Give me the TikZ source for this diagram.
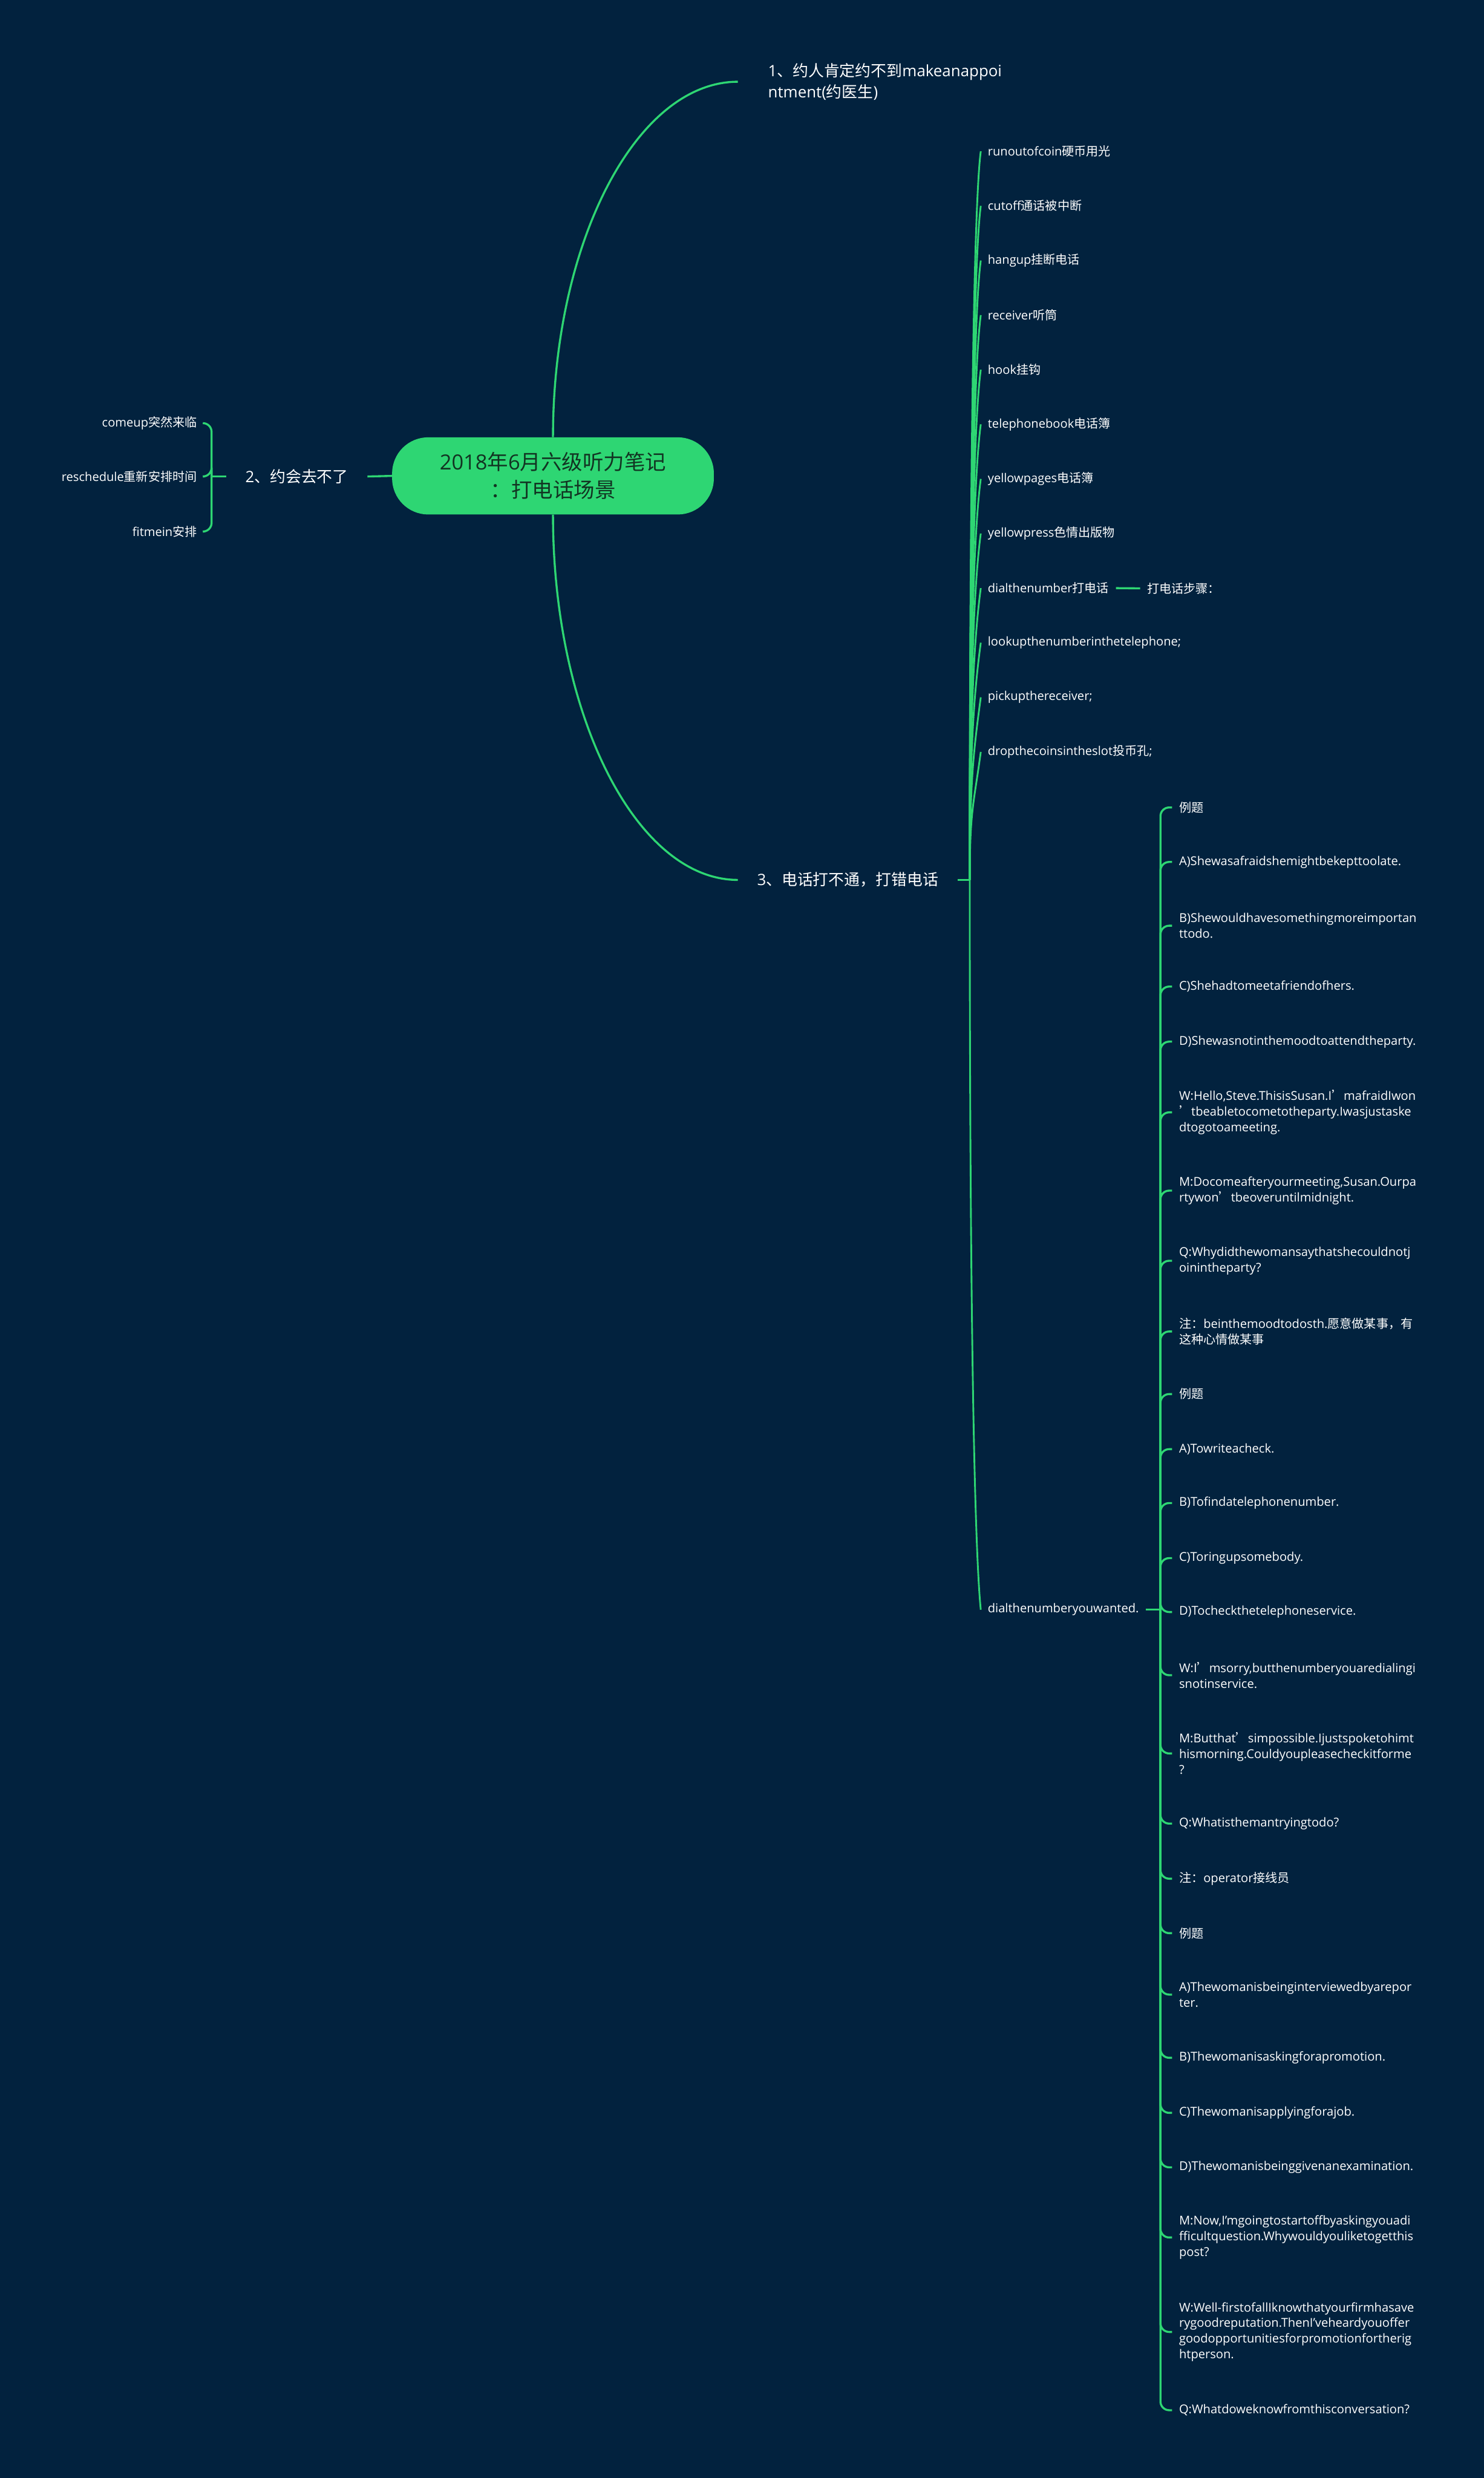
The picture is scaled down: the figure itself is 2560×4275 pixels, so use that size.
\documentclass[tikz,border=0pt]{standalone}
\usepackage{fontspec}
\setmainfont{Open Sans}
\newfontfamily\cjkfont{Noto Sans CJK SC}
\usepackage{tikz}
\usetikzlibrary{calc}

% Chinese runs switch to the CJK family by themselves
\XeTeXinterchartokenstate=1
\newXeTeXintercharclass\cjkclass
\newcount\cjkcode
\cjkcode="4E00
\loop
  \XeTeXcharclass\cjkcode=\cjkclass
  \ifnum\cjkcode<"9FFF
  \advance\cjkcode by 1
\repeat
\XeTeXcharclass"3001=\cjkclass
\XeTeXcharclass"FF0C=\cjkclass
\XeTeXcharclass"FF1A=\cjkclass
\XeTeXcharclass"2019=\cjkclass
\XeTeXinterchartoks 0 \cjkclass={\cjkfont}
\XeTeXinterchartoks 4095 \cjkclass={\cjkfont}
\XeTeXinterchartoks \cjkclass 0={\rmfamily}
\XeTeXinterchartoks \cjkclass 4095={\rmfamily}

\definecolor{bgnavy}{RGB}{2,34,62}
\definecolor{mapgreen}{RGB}{46,214,115}
\definecolor{rootink}{RGB}{18,52,34}

\tikzset{
  branchline/.style={draw=mapgreen, line width=3.5pt},
  maintopic/.style={fill=mapgreen, text=rootink, rounded corners=62pt, minimum width=555pt,
    minimum height=133pt, align=center, font=\fontsize{36}{48}\selectfont},
  subtopic/.style={text=white, inner xsep=33pt, inner ysep=8pt, align=left,
    font=\fontsize{27}{37}\selectfont},
  leafnode/.style={text=white, inner xsep=12pt, inner ysep=6pt, align=left,
    font=\fontsize{21}{27}\selectfont},
}

\begin{document}
\begin{tikzpicture}[x=1pt, y=1pt]
\fill[bgnavy] (0,0) rectangle (2560,-4275);
\useasboundingbox (0,0) rectangle (2560,-4275);

\node[maintopic] (root) at (954,-821) {2018年6月六级听力笔记\\：打电话场景};

% first level
\node[subtopic, anchor=west, inner xsep=52pt] (make) at (1273,-141) {1、约人肯定约不到makeanappoi\\ntment(约医生)};
\node[subtopic, anchor=east] (cancel) at (634,-822) {2、约会去不了};
\node[subtopic, anchor=west] (phone) at (1273,-1518) {3、电话打不通，打错电话};

\draw[branchline] (root.north) .. controls +(0,337) and +(-175,0) .. (make.west);
\draw[branchline] (root.south) .. controls +(0,-347) and +(-175,0) .. (phone.west);
\draw[branchline] (root.west) -- (cancel.east);

% 2: left side
\coordinate (cancelhub) at (365,-822);
\draw[branchline] (cancel.west) -- (cancelhub);
\foreach \yy/\t [count=\i] in {730/comeup突然来临, 822/reschedule重新安排时间, 917/fitmein安排} {
  \node[leafnode, anchor=east] (late\i) at (352,-\yy) {\t};
  \draw[branchline, rounded corners=15pt] (cancelhub) |- (late\i.east);
}

% 3: words
\coordinate (phonehub) at (1673,-1518);
\draw[branchline] (phone.east) -- (phonehub);
\foreach \t [count=\i from 0] in {runoutofcoin硬币用光, cutoff通话被中断, hangup挂断电话,
    receiver听筒, hook挂钩, telephonebook电话簿, yellowpages电话簿, yellowpress色情出版物,
    dialthenumber打电话, lookupthenumberinthetelephone;, pickupthereceiver;,
    dropthecoinsintheslot投币孔;} {
  \node[leafnode, anchor=west] (word\i) at (1692,{-261-94.2*\i}) {\t};
  \draw[branchline, line width=3pt] (phonehub)
    .. controls ($(phonehub)!0.55!(phonehub |- word\i.west)$) and ($(word\i.west)+(-12,-90)$) .. (word\i.west);
}
\node[leafnode, anchor=west] (steps) at (1967,-1015) {打电话步骤：};
\draw[branchline] (word8.east) -- (steps.west);

% 3: examples
\node[leafnode, anchor=west] (dialwant) at (1692,-2777) {dialthenumberyouwanted.};
\draw[branchline, line width=3pt] (phonehub)
  .. controls ($(phonehub)!0.55!(phonehub |- dialwant.west)$) and ($(dialwant.west)+(-12,120)$) .. (dialwant.west);
\coordinate (dialhub) at (2002,-2777);
\draw[branchline] (dialwant.east) -- (dialhub);
\foreach \yy/\t [count=\i] in {
    1393/{例题},
    1487/{A)Shewasafraidshemightbekepttoolate.},
    1597/{B)Shewouldhavesomethingmoreimportan\\ttodo.},
    1702/{C)Shehadtomeetafriendofhers.},
    1797/{D)Shewasnotinthemoodtoattendtheparty.},
    1919/{W:Hello,Steve.ThisisSusan.I’mafraidIwon\\’tbeabletocometotheparty.Iwasjustaske\\dtogotoameeting.},
    2054/{M:Docomeafteryourmeeting,Susan.Ourpa\\rtywon’tbeoveruntilmidnight.},
    2175/{Q:Whydidthewomansaythatshecouldnotj\\oinintheparty?},
    2297/{注：beinthemoodtodosth.愿意做某事，有\\这种心情做某事},
    2405/{例题},
    2500/{A)Towriteacheck.},
    2593/{B)Tofindatelephonenumber.},
    2688/{C)Toringupsomebody.},
    2781/{D)Tocheckthetelephoneservice.},
    2890/{W:I’msorry,butthenumberyouaredialingi\\snotinservice.},
    3025/{M:Butthat’simpossible.Ijustspoketohimt\\hismorning.Couldyoupleasecheckitforme\\?},
    3146/{Q:Whatisthemantryingtodo?},
    3241/{注：operator接线员},
    3335/{例题},
    3441/{A)Thewomanisbeinginterviewedbyarepor\\ter.},
    3550/{B)Thewomanisaskingforapromotion.},
    3645/{C)Thewomanisapplyingforajob.},
    3739/{D)Thewomanisbeinggivenanexamination.},
    3860/{M:Now,I'mgoingtostartoffbyaskingyouadi\\fficultquestion.Whywouldyouliketogetthis\\post?},
    4023/{W:Well-firstofallIknowthatyourfirmhasave\\rygoodreputation.ThenI'veheardyouoffer\\goodopportunitiesforpromotionfortherig\\htperson.},
    4158/{Q:Whatdoweknowfromthisconversation?}} {
  \node[leafnode, anchor=west] (ex\i) at (2022,-\yy) {\t};
  \draw[branchline, rounded corners=15pt] (dialhub) |- (ex\i.west);
}
\end{tikzpicture}
\end{document}
